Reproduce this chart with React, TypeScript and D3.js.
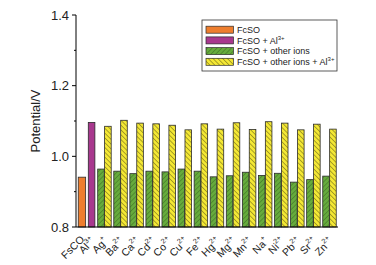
import React from "react";
import * as d3 from "d3";

const ions = ["Ag", "Ba", "Ca", "Cd", "Co", "Cu", "Fe", "Hg", "Mg", "Mn", "Na", "Ni", "Pb", "Sr", "Zn"];
const charges = ["+", "2+", "2+", "2+", "2+", "2+", "2+", "2+", "2+", "2+", "+", "2+", "2+", "2+", "2+"];
const fcsoValue = 0.941;
const alValue = 1.096;
const otherIons = [0.964, 0.958, 0.951, 0.958, 0.956, 0.964, 0.958, 0.942, 0.945, 0.955, 0.946, 0.952, 0.927, 0.934, 0.944];
const otherIonsAl = [1.085, 1.102, 1.094, 1.092, 1.088, 1.075, 1.092, 1.077, 1.095, 1.076, 1.098, 1.094, 1.075, 1.091, 1.077];
const yMajor = [0.8, 1.0, 1.2, 1.4];
const yMinor = [0.9, 1.1, 1.3];
const legendLabels = [
  { text: "FcSO", sup: "" },
  { text: "FcSO + Al", sup: "3+" },
  { text: "FcSO + other ions", sup: "" },
  { text: "FcSO + other ions + Al", sup: "3+" },
];

const W = 376, H = 265;
const L = 76, R = 338, T = 15, B = 227;
const COLORS = { orange: "#EE7E2E", purple: "#A8388E", green: "#66AB3D", yellow: "#F4E834" };
const FONT = "'Liberation Sans', Arial, sans-serif";

export default function App() {
  const y = d3.scaleLinear().domain([0.8, 1.4]).range([B, T]);
  const x = d3.scaleLinear().domain([-0.77, 15.53]).range([L, R]);
  const unit = x(1) - x(0);
  const bw = 0.41 * unit;
  const fcsoPos = -0.4, alPos = 0.2;

  const labels = [
    { ax: x(fcsoPos) + 3, ay: 240, text: "FsCO", sup: "" },
    { ax: x(alPos) + 4, ay: 242, text: "Al", sup: "3+" },
    ...ions.map((n, i) => ({ ax: x(i + 1) + 4, ay: 242, text: n, sup: charges[i] })),
  ];

  const stroke = "#2b2b2b";
  const sw = 0.8;

  return (
    <svg width={W} height={H} style={{ position: "absolute", left: 0, top: 0, background: "#fff" }} fontFamily={FONT}>
      <defs>
        <pattern id="hatchGreen" patternUnits="userSpaceOnUse" width={3.4} height={3.4} patternTransform="rotate(45)">
          <rect width={3.4} height={3.4} fill={COLORS.green} />
          <line x1={0} y1={0} x2={0} y2={3.4} stroke="#2f5a1b" strokeWidth={0.8} />
        </pattern>
        <pattern id="hatchYellow" patternUnits="userSpaceOnUse" width={3.4} height={3.4} patternTransform="rotate(-45)">
          <rect width={3.4} height={3.4} fill={COLORS.yellow} />
          <line x1={0} y1={0} x2={0} y2={3.4} stroke="#3a3510" strokeWidth={0.8} />
        </pattern>
      </defs>

      {/* bars */}
      <rect x={x(fcsoPos) - 0.46 * unit / 2} y={y(fcsoValue)} width={0.46 * unit} height={B - y(fcsoValue)} fill={COLORS.orange} stroke={stroke} strokeWidth={sw} />
      <rect x={x(alPos) - bw / 2} y={y(alValue)} width={bw} height={B - y(alValue)} fill={COLORS.purple} stroke={stroke} strokeWidth={sw} />
      {ions.map((n, i) => (
        <g key={n}>
          <rect x={x(i + 1) - 0.42 * unit} y={y(otherIons[i])} width={bw} height={B - y(otherIons[i])} fill="url(#hatchGreen)" stroke={stroke} strokeWidth={sw} />
          <rect x={x(i + 1) + 0.01 * unit} y={y(otherIonsAl[i])} width={bw} height={B - y(otherIonsAl[i])} fill="url(#hatchYellow)" stroke={stroke} strokeWidth={sw} />
        </g>
      ))}

      {/* axes */}
      <line x1={L} x2={L} y1={T} y2={B} stroke="#000" strokeWidth={1} />
      <line x1={L} x2={R} y1={B} y2={B} stroke="#000" strokeWidth={1} />
      {yMajor.map((v) => (
        <g key={v}>
          <line x1={L - 4} x2={L} y1={y(v)} y2={y(v)} stroke="#000" strokeWidth={1} />
          <text x={L - 7} y={y(v)} dy="0.35em" textAnchor="end" fontSize={13} fill="#222">{v.toFixed(1)}</text>
        </g>
      ))}
      {yMinor.map((v) => (
        <line key={v} x1={L - 2} x2={L} y1={y(v)} y2={y(v)} stroke="#000" strokeWidth={1} />
      ))}
      <text transform={`translate(35,${(T + B) / 2}) rotate(-90)`} textAnchor="middle" dy="0.35em" fontSize={13} fill="#222">Potential/V</text>

      {/* x labels */}
      {labels.map((l, i) => (
        <text key={i} transform={`translate(${l.ax},${l.ay}) rotate(-45)`} textAnchor="end" fontSize={10.5} fill="#222">
          {l.text}
          {l.sup && <tspan fontSize={7} dy={-5}>{l.sup}</tspan>}
        </text>
      ))}

      {/* legend */}
      <rect x={202} y={20} width={135} height={51} fill="#fff" stroke="#333" strokeWidth={0.8} />
      {legendLabels.map((lg, i) => {
        const cy = 29.7 + i * 10.7;
        const fills = [COLORS.orange, COLORS.purple, "url(#hatchGreen)", "url(#hatchYellow)"];
        return (
          <g key={i}>
            <rect x={206} y={cy - 3.5} width={27.5} height={7} fill={fills[i]} stroke={stroke} strokeWidth={0.7} />
            <text x={237} y={cy} dy="0.35em" fontSize={9} fill="#222">
              {lg.text}
              {lg.sup && <tspan fontSize={6} dy={-4}>{lg.sup}</tspan>}
            </text>
          </g>
        );
      })}
    </svg>
  );
}
